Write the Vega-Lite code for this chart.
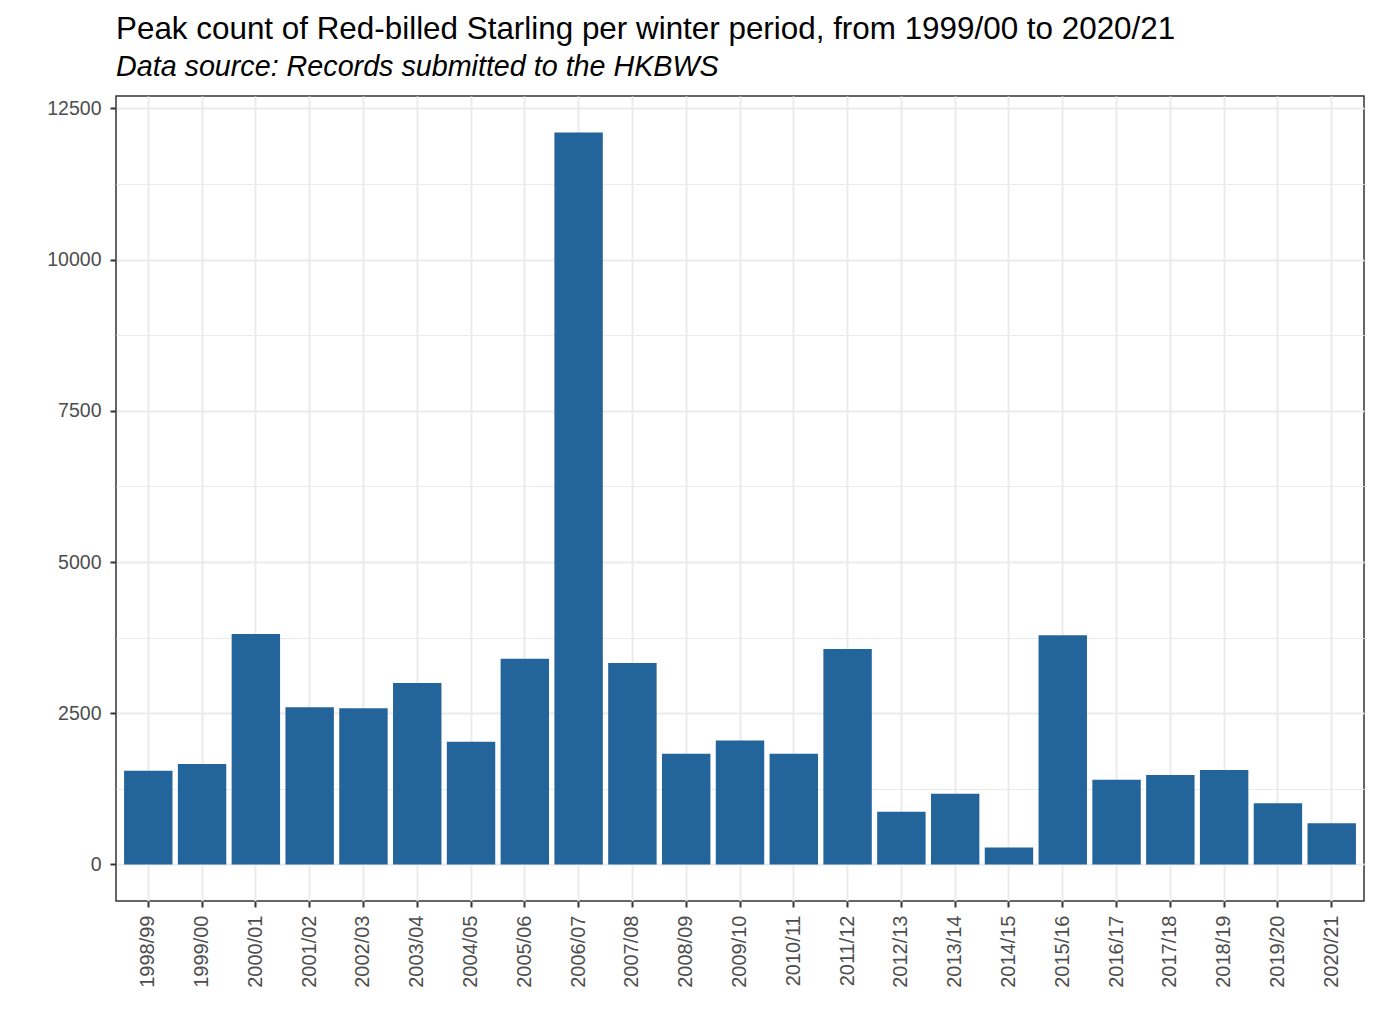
{
  "$schema": "https://vega.github.io/schema/vega-lite/v6.json",
  "autosize": "none",
  "width": 1248,
  "height": 805,
  "padding": {"left": 116, "top": 96, "right": 15, "bottom": 133},
  "background": "white",
  "title": {
    "text": "Peak count of Red-billed Starling per winter period, from 1999/00 to 2020/21",
    "subtitle": "Data source: Records submitted to the HKBWS",
    "anchor": "start",
    "frame": "group",
    "font": "Liberation Sans",
    "fontSize": 31.4,
    "fontWeight": "normal",
    "color": "black",
    "subtitleFont": "Liberation Sans",
    "subtitleFontSize": 28.7,
    "subtitleFontStyle": "italic",
    "subtitleColor": "black",
    "subtitlePadding": 8,
    "offset": 14
  },
  "data": {
    "values": [
      {"period": "1998/99", "count": 1550},
      {"period": "1999/00", "count": 1660},
      {"period": "2000/01", "count": 3810},
      {"period": "2001/02", "count": 2600},
      {"period": "2002/03", "count": 2580},
      {"period": "2003/04", "count": 3000},
      {"period": "2004/05", "count": 2030},
      {"period": "2005/06", "count": 3400},
      {"period": "2006/07", "count": 12100},
      {"period": "2007/08", "count": 3330},
      {"period": "2008/09", "count": 1830},
      {"period": "2009/10", "count": 2050},
      {"period": "2010/11", "count": 1830},
      {"period": "2011/12", "count": 3560},
      {"period": "2012/13", "count": 870},
      {"period": "2013/14", "count": 1170},
      {"period": "2014/15", "count": 280},
      {"period": "2015/16", "count": 3790},
      {"period": "2016/17", "count": 1400},
      {"period": "2017/18", "count": 1480},
      {"period": "2018/19", "count": 1560},
      {"period": "2019/20", "count": 1010},
      {"period": "2020/21", "count": 680}
    ]
  },
  "mark": {"type": "bar", "color": "#23649b"},
  "encoding": {
    "x": {
      "field": "period",
      "type": "nominal",
      "sort": null,
      "title": null,
      "scale": {"paddingInner": 0.1, "paddingOuter": 0.15},
      "axis": {
        "labelAngle": -90,
        "labelAlign": "right",
        "labelBaseline": "middle",
        "labelPadding": 8,
        "bandPosition": 0.5,
        "grid": true,
        "gridColor": "#ebebeb",
        "gridWidth": 2,
        "domain": false,
        "ticks": true,
        "tickColor": "#333333",
        "tickWidth": 2,
        "tickSize": 6,
        "labelFont": "Liberation Sans",
        "labelFontSize": 20,
        "labelColor": "#4d4d4d"
      }
    },
    "y": {
      "field": "count",
      "type": "quantitative",
      "title": null,
      "scale": {"domain": [-605, 12705], "nice": false, "zero": false},
      "axis": {
        "values": [0, 1250, 2500, 3750, 5000, 6250, 7500, 8750, 10000, 11250, 12500],
        "labelExpr": "datum.value % 2500 === 0 ? datum.value : ''",
        "grid": true,
        "gridColor": "#ebebeb",
        "gridWidth": {"condition": {"test": "datum.value % 2500 === 0", "value": 2}, "value": 1},
        "domain": false,
        "tickColor": {"condition": {"test": "datum.value % 2500 === 0", "value": "#333333"}, "value": "transparent"},
        "tickWidth": 2,
        "tickSize": 6,
        "labelPadding": 9,
        "labelFont": "Liberation Sans",
        "labelFontSize": 19.5,
        "labelColor": "#4d4d4d"
      }
    }
  },
  "config": {
    "view": {"stroke": "#333333", "strokeWidth": 1.5}
  }
}
